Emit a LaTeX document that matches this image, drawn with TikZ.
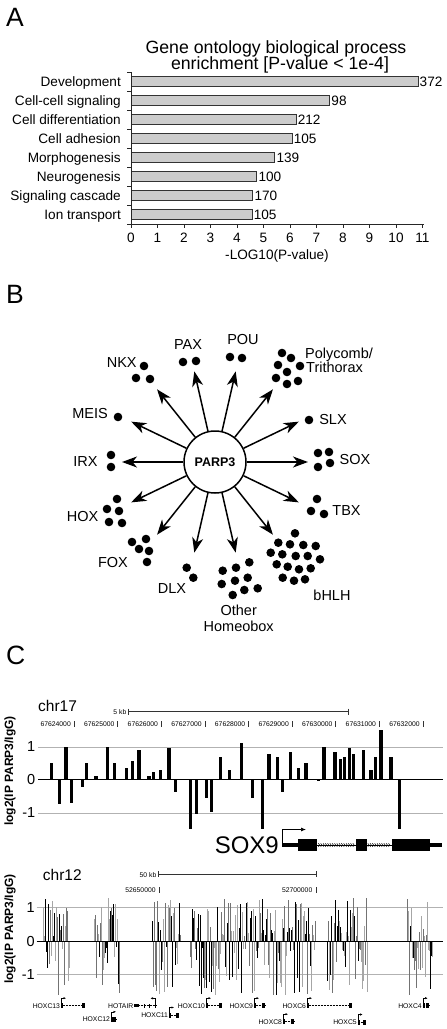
\documentclass[tikz,border=0pt]{standalone}
\usepackage{fontspec}
\setmainfont{Liberation Sans}
\usetikzlibrary{arrows.meta,calc}
\tikzset{>=latex}

\begin{document}
\begin{tikzpicture}[x=1pt,y=-1pt,
		letter/.style={font=\fontsize{26.5}{27}\selectfont,inner sep=0pt,anchor=base west},
		txt/.style={font=\fontsize{13.6}{14}\selectfont,inner sep=0pt},
		gobar/.style={draw=black!80,fill=black!20,line width=0.9pt},
		axis/.style={line width=0.9pt,black!85},
		fam/.style={font=\fontsize{14.5}{15}\selectfont,inner sep=0pt,anchor=base},
		flow/.style={-{Stealth[length=15pt,width=11pt,inset=4.5pt]},line width=1.5pt},
		small/.style={font=\fontsize{6.8}{7}\selectfont,inner sep=0pt},
		ylab/.style={font=\fontsize{14.5}{15}\selectfont,inner sep=0pt,anchor=east},
		ytitle/.style={font=\bfseries\fontsize{12}{12}\selectfont,inner sep=0pt,rotate=90},
		gridl/.style={black!30,line width=1pt},
		zerol/.style={black,line width=1pt},
		scalebar/.style={line width=0.6pt,black!80},
		tss/.style={line width=0.4pt,-{Latex[length=2.5pt,width=2.2pt]}},
	]
	\useasboundingbox (0,0) rectangle (447,1029);

	% ---------- A ----------
	\node[letter] (lblA) at (6,26.7) {A};
	\node[txt,font=\fontsize{17.7}{18}\selectfont,anchor=base] (ttl1) at (276,53.3) {Gene ontology biological process};
	\node[txt,font=\fontsize{17.7}{18}\selectfont,anchor=base] (ttl2) at (280,69.3) {enrichment [P-value < 1e-4]};
	\foreach \val/\num/\name [count=\i from 0] in {10.83/372/Development,7.5/98/Cell-cell signaling,6.23/212/Cell differentiation,6.08/105/Cell adhesion,5.43/139/Morphogenesis,4.75/100/Neurogenesis,4.6/170/Signaling cascade,4.57/105/Ion transport}
	{
		\pgfmathsetmacro\yy{81.5+19*\i}
		\pgfmathsetmacro\xe{131+26.5*\val}
		\draw[gobar] (131,\yy-5.3) rectangle (\xe,\yy+5.3);
		\node[txt,anchor=base east] (cat\i) at (121,\yy+5) {\name};
		\node[txt,anchor=base west] (num\i) at (\xe+1.5,\yy+5) {\num};
	}
	\draw[axis] (131,72) -- (131,224) -- (424,224);
	\foreach \k in {0,...,8} \draw[axis] (127,72+19*\k) -- (131,72+19*\k);
	\foreach \k in {0,...,11}{
		\draw[axis] (131+26.5*\k,224) -- (131+26.5*\k,227.5);
		\node[txt,anchor=base] (tick\k) at (131+26.5*\k,242.7) {\k};
	}
	\node[txt,anchor=base] (xlab) at (277,259.5) {-LOG10(P-value)};

	% ---------- B ----------
	\node[letter] (lblB) at (6,303.3) {B};
	\node[circle,draw,line width=1.5pt,minimum size=62pt,inner sep=0pt,font=\bfseries\fontsize{12.5}{13}\selectfont] (parp) at (215,462) {PARP3};
	\foreach \k in {0,...,13}{
		\path (parp.center) ++({-\k*360/14}:93) coordinate (tip\k);
		\draw[flow] (parp) -- (tip\k);
	}
	\foreach \x/\y in {144/366,136/378,150/379, 183/362,196/361, 230/357,242/358,
		282/353,291/358,278/365,300/366,287/372,276/378,287/384,298/381,
		118/417, 309/420, 111/455,111/467, 318/453,329/452,318/467,330/463,
		117/499,107/509,119/511,109/522,122/523, 317/499,311/511,324/514,
		132/542,146/539,139/549,149/551,147/562, 186.7/567.7,193.3/577.7,
		222.7/570.7,236/567.7,249.3/562.3,221.7/584,235/580.7,247.7/577.7,232.7/595,244.3/590,257.7/588.3,
		295/533.3,278.3/542.7,290/544.3,303.3/545,315.7/546,270.7/552.7,282.3/554.3,295.7/556,307.7/556,320/559.3,
		276.7/564.3,287.7/566.7,299/569.3,310.7/568.3,282.7/577.7,294/580.7,305/579.3}
		\fill (\x,\y) circle (4.3);
	\node[fam] (nkx) at (121.7,367.3) {NKX};
	\node[fam] (pax) at (188,349) {PAX};
	\node[fam] (pou) at (243,344) {POU};
	\node[fam,anchor=base west] (pcg) at (305,358) {Polycomb/};
	\node[fam,anchor=base west] (trx) at (306,372) {Trithorax};
	\node[fam] (meis) at (90,418.3) {MEIS};
	\node[fam] (slx) at (333,424) {SLX};
	\node[fam] (irx) at (85.5,466.7) {IRX};
	\node[fam] (sox) at (355,464) {SOX};
	\node[fam] (hox) at (82.5,521.3) {HOX};
	\node[fam] (tbx) at (346.5,515) {TBX};
	\node[fam] (fox) at (113,567.7) {FOX};
	\node[fam] (dlx) at (172,593.3) {DLX};
	\node[fam] (bhlh) at (332,600) {bHLH};
	\node[fam] (oth) at (238.7,615) {Other};
	\node[fam] (hbox) at (238.7,631) {Homeobox};

	% ---------- C : chr17 ----------
	\node[letter] (lblC) at (6,664) {C};
	\node[txt,font=\fontsize{15.5}{16}\selectfont,anchor=base west] (chrA) at (38,711.7) {chr17};
	\node[small,anchor=base east] (kbA) at (126.5,714) {5 kb};
	\draw[scalebar] (128.3,708.7) -- (128.3,714.7) (128.3,711.7) -- (348.3,711.7) (348.3,708.7) -- (348.3,714.7);
	\foreach \lab [count=\k from 0] in {67624000,67625000,67626000,67627000,67628000,67629000,67630000,67631000,67632000}{
		\pgfmathsetmacro\xt{74+43.6*\k}
		\draw[scalebar] (\xt,721) -- (\xt,727.3);
		\node[small,anchor=base east] (posA\k) at (\xt-3,726.5) {\lab};
	}
	\draw[gridl] (38,747) -- (443,747);
	\draw[gridl] (38,813) -- (443,813);
	\foreach \xx/\vv in {51.7/0.48,59.3/-0.77,66/0.96,71.7/-0.72,82.3/-0.24,86.7/0.48,96/0.08,107.3/0.96,114.3/0.48,
		126.7/0.34,132.7/0.55,139/0.88,149/0.08,153.7/0.21,160.7/0.28,169/0.93,175.3/-0.39,190.3/-1.5,196.7/-1.05,
		206.7/-0.58,211.7/-0.99,220.7/0.68,229.3/0.28,241.3/1.08,252.7/-0.58,262.7/-1.5,269/0.75,277.7/0.68,282.7/-0.39,
		290.7/0.81,298.7/0.34,306/0.48,318.3/-0.05,324/0.96,335/0.81,340.3/0.61,344.3/0.68,349.3/0.95,353.7/0.75,
		363.3/0.88,371/0.28,375.7/0.68,381/1.48,391/0.68,399.3/-1.5}
		\fill (\xx-1.6,779) rectangle (\xx+1.6,779-33*\vv);
	\draw[zerol] (38,779) -- (443,779);
	\node[ylab] (oneA) at (35.5,747) {1};
	\node[ylab] (zeroA) at (35.5,779) {0};
	\node[ylab] (moneA) at (35.5,813) {-1};
	\node[ytitle] (ytA) at (10,771) {log2(IP PARP3/IgG)};
	% SOX9 gene
	\node[font=\fontsize{24}{24}\selectfont,inner sep=0pt,anchor=base east] (sox9) at (279,853) {SOX9};
	\fill (281.7,842.7) rectangle (298.3,847.3);
	\fill (298.3,839.3) rectangle (317.3,850.7);
	\fill (356,839.3) rectangle (366.7,850.7);
	\fill (392.3,839.3) rectangle (430,850.7);
	\fill (430,842.7) rectangle (441.7,847.3);
	\foreach \a/\b/\n in {317.3/356/16,366.7/392.3/10}{
		\draw[line width=0.5pt] (\a,845) -- (\b,845);
		\foreach \j in {1,...,\n}
			\draw[line width=0.5pt] (\a+2.3*\j-1.2,843.3) -- (\a+2.3*\j,845) -- (\a+2.3*\j-1.2,846.7);
	}
	\draw[line width=0.7pt,-{Latex[length=5pt,width=4pt]}] (282.7,842.7) |- (306,829.5);

	% ---------- C : chr12 ----------
	\node[txt,font=\fontsize{15.5}{16}\selectfont,anchor=base west] (chrB) at (42.7,880) {chr12};
	\node[small,anchor=base east] (kbB) at (156.5,877) {50 kb};
	\draw[scalebar] (158.3,871.3) -- (158.3,877.3) (158.3,874.3) -- (316.7,874.3) (316.7,871.3) -- (316.7,877.3);
	\foreach \lab/\xt [count=\k] in {52650000/159.3,52700000/316}{
		\draw[scalebar] (\xt,887) -- (\xt,893.3);
		\node[small,anchor=base east] (posB\k) at (\xt-3.5,892.5) {\lab};
	}
	\draw[gridl] (36.7,907.7) -- (442.7,907.7);
	\draw[gridl] (36.7,974.3) -- (442.7,974.3);
	\pgfmathsetseed{4213}
	\foreach \a/\b in {43/69,94/119,152/180,190/315,327/367,407/432}{
		\foreach \xx in {\a,...,\b}{
			\pgfmathsetmacro\hh{rnd<0.5 ? 0.15+1.15*rnd : -0.15-1.5*rnd}
			\pgfmathtruncatemacro\cc{3*rnd}
			\ifcase\cc \def\bc{black}\or \def\bc{black!55}\else \def\bc{black!35}\fi
			\draw[\bc,line width=0.9pt] (\xx,941) -- (\xx,941-33*\hh);
		}
	}
	\draw[zerol] (36.7,941) -- (442.7,941);
	\node[ylab] (oneB) at (35,907.7) {1};
	\node[ylab] (zeroB) at (35,941) {0};
	\node[ylab] (moneB) at (35,974.3) {-1};
	\node[ytitle] (ytB) at (10,929) {log2(IP PARP3/IgG)};
	% HOXC genes
	\foreach \nm/\xa/\xb/\yy in {HOXC13/61/85/1005.7,HOXC12/111/116/1019.3,HOXC11/169/179/1015,HOXC10/206/222/1005.7,
		HOXC9/254/265/1005.7,HOXC8/283/294/1021.7,HOXC6/307/352/1005.7,HOXC5/357.7/366/1022,HOXC4/422.7/429.3/1005.7}
	{
		\node[small,anchor=east] (g\nm) at (\xa-0.8,\yy) {\nm};
		\draw[line width=0.5pt,densely dotted] (\xa,\yy) -- (\xb,\yy);
		\fill (\xa,\yy-2.5) rectangle (\xa+2,\yy+2.5);
		\fill (\xb-3.5,\yy-2.5) rectangle (\xb,\yy+2.5);
		\draw[tss] (\xa+0.5,\yy-2.5) |- (\xa+5,\yy-7.5);
	}
	\node[small,anchor=east] (gHOTAIR) at (133.5,1005.7) {HOTAIR};
	\fill (134,1004) rectangle (139,1007.4);
	\draw[line width=0.5pt,densely dotted] (139,1005.7) -- (156,1005.7);
	\fill (144,1003.5) rectangle (145,1008);
	\fill (149,1003.5) rectangle (150,1008);
	\fill (154.5,1003.5) rectangle (156,1008);
	\draw[tss] (155.5,1003.5) |- (150.5,998.3);
\end{tikzpicture}
\end{document}
